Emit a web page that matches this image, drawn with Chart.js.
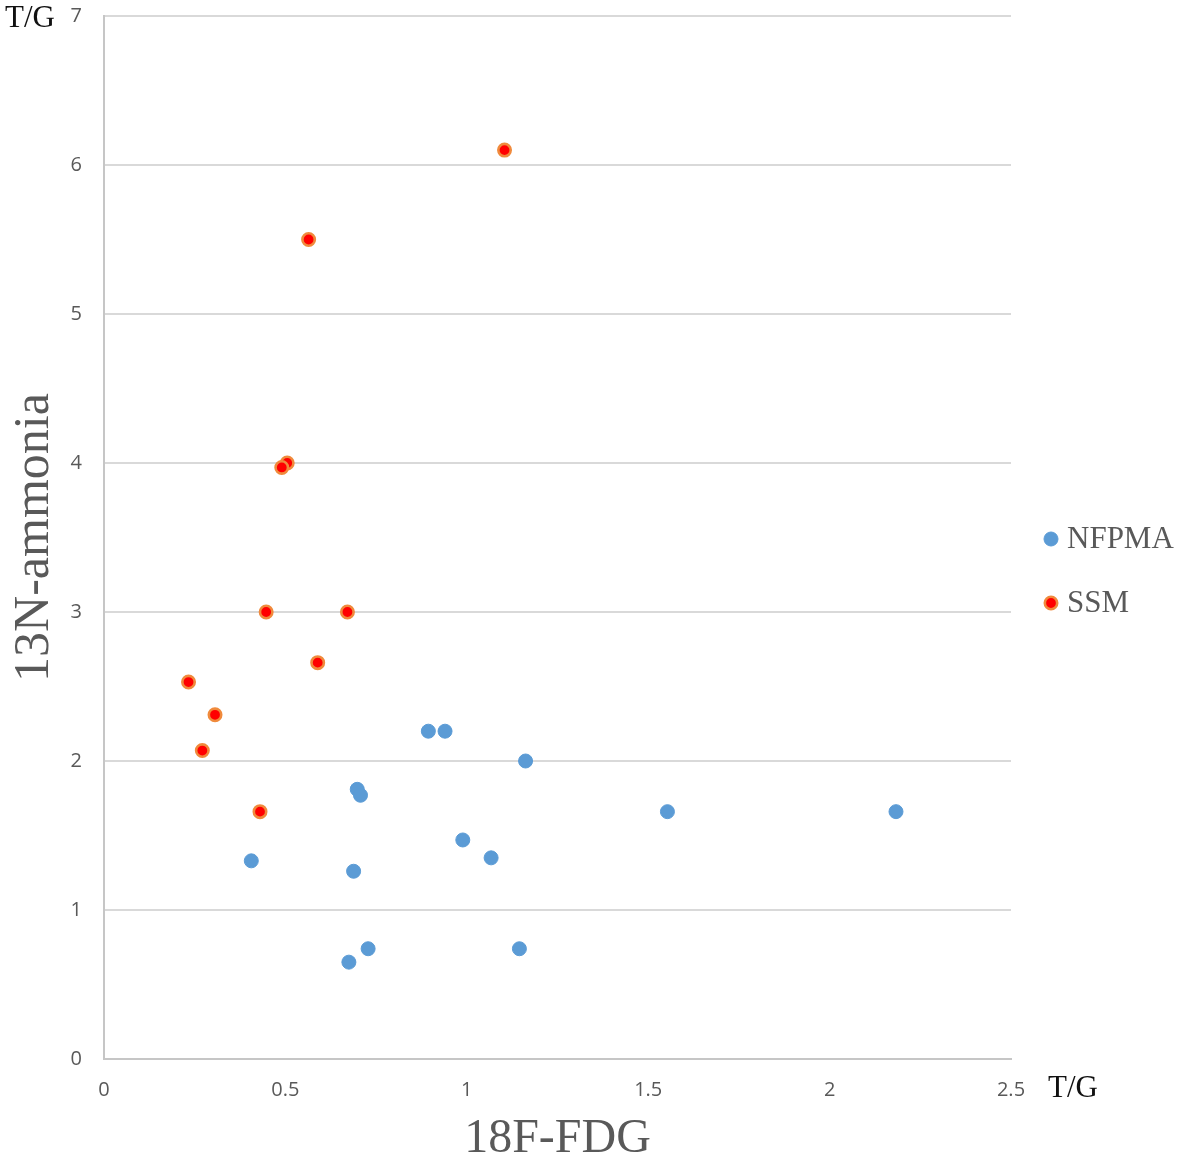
<!DOCTYPE html>
<html>
<head>
<meta charset="utf-8">
<script src="https://cdn.jsdelivr.net/npm/chart.js@4"></script>
<style>
  html, body { margin: 0; padding: 0; background: #ffffff; }
  #wrap { width: 1181px; height: 1161px; position: relative; }
</style>
</head>
<body>
<div id="wrap"><canvas id="c" width="1181" height="1161"></canvas></div>
<script>
// ---- data ----
const seriesNames = ["NFPMA", "SSM"];
const nfpmaX = [0.894, 0.940, 1.162, 0.698, 0.707, 0.989, 1.067, 0.406, 0.688, 0.728, 0.675, 1.145, 1.553, 2.183];
const nfpmaY = [2.20, 2.20, 2.00, 1.81, 1.77, 1.47, 1.35, 1.33, 1.26, 0.74, 0.65, 0.74, 1.66, 1.66];
const ssmX = [1.104, 0.564, 0.505, 0.490, 0.447, 0.671, 0.589, 0.233, 0.306, 0.271, 0.430];
const ssmY = [6.10, 5.50, 4.00, 3.97, 3.00, 3.00, 2.66, 2.53, 2.31, 2.07, 1.66];
const xTicks = [0, 0.5, 1, 1.5, 2, 2.5];
const yTicks = [0, 1, 2, 3, 4, 5, 6, 7];
const xTitle = "18F-FDG";
const yTitle = "13N-ammonia";
const unitLabel = "T/G";

const toPoints = (xs, ys) => xs.map((x, i) => ({ x: x, y: ys[i] }));

const TICK_COLOR = "#595959";
const SERIF = "'Liberation Serif', 'Times New Roman', serif";

const extrasPlugin = {
  id: "extras",
  afterDraw(chart) {
    const ctx = chart.ctx;
    ctx.save();
    // unit labels
    ctx.fillStyle = "#111111";
    ctx.font = "31px " + SERIF;
    ctx.textAlign = "left";
    ctx.textBaseline = "alphabetic";
    ctx.fillText(unitLabel, 5, 27);
    ctx.fillText(unitLabel, 1048, 1097);
    // legend
    const legendY = [539, 603];
    chart.data.datasets.forEach((ds, i) => {
      const cx = 1051, cy = legendY[i];
      ctx.beginPath();
      ctx.arc(cx, cy, ds.pointRadius, 0, Math.PI * 2);
      ctx.fillStyle = ds.pointBackgroundColor;
      ctx.fill();
      ctx.lineWidth = ds.pointBorderWidth;
      ctx.strokeStyle = ds.pointBorderColor;
      ctx.stroke();
      ctx.fillStyle = TICK_COLOR;
      ctx.font = "31px " + SERIF;
      ctx.textAlign = "left";
      ctx.textBaseline = "middle";
      ctx.fillText(ds.label, 1067, cy + 1);
    });
    ctx.restore();
  }
};

new Chart(document.getElementById("c"), {
  type: "scatter",
  data: {
    datasets: [
      {
        label: seriesNames[0],
        data: toPoints(nfpmaX, nfpmaY),
        pointRadius: 7,
        pointHoverRadius: 7,
        pointBackgroundColor: "#5B9BD5",
        pointBorderColor: "#5B9BD5",
        pointBorderWidth: 1
      },
      {
        label: seriesNames[1],
        data: toPoints(ssmX, ssmY),
        pointRadius: 6.2,
        pointHoverRadius: 6.2,
        pointBackgroundColor: "#FF0000",
        pointBorderColor: "#F08A3C",
        pointBorderWidth: 2.6
      }
    ]
  },
  options: {
    responsive: false,
    animation: false,
    layout: { padding: { left: 0, top: 16, right: 170, bottom: 0 } },
    plugins: {
      legend: { display: false },
      tooltip: { enabled: false }
    },
    scales: {
      x: {
        type: "linear",
        min: xTicks[0],
        max: xTicks[xTicks.length - 1],
        afterBuildTicks: (s) => { s.ticks = xTicks.map(v => ({ value: v })); },
        afterFit: (s) => { s.height = 102; s.paddingLeft = 0; s.paddingRight = 0; },
        grid: { display: false, drawTicks: false },
        border: { display: true, color: "#c6c6c6", width: 2 },
        ticks: {
          color: TICK_COLOR,
          font: { family: "'Open Sans', sans-serif", size: 20 },
          padding: 19,
          maxRotation: 0,
          callback: (v) => String(v)
        },
        title: {
          display: true,
          text: xTitle,
          color: TICK_COLOR,
          font: { family: SERIF, size: 48, lineHeight: 0.8 },
          padding: { top: 0, bottom: 2 }
        }
      },
      y: {
        type: "linear",
        min: yTicks[0],
        max: yTicks[yTicks.length - 1],
        afterBuildTicks: (s) => { s.ticks = yTicks.map(v => ({ value: v })); },
        afterFit: (s) => { s.width = 104; s.paddingTop = 0; s.paddingBottom = 0; },
        grid: { display: true, drawTicks: false, color: "#d9d9d9", lineWidth: 2 },
        border: { display: true, color: "#c6c6c6", width: 2 },
        ticks: {
          color: TICK_COLOR,
          font: { family: "'Open Sans', sans-serif", size: 20 },
          padding: 22,
          callback: (v) => String(v)
        },
        title: {
          display: true,
          text: yTitle,
          color: TICK_COLOR,
          font: { family: SERIF, size: 50, lineHeight: 1 },
          padding: { top: 10, bottom: 0 }
        }
      }
    }
  },
  plugins: [extrasPlugin]
});
</script>
</body>
</html>
